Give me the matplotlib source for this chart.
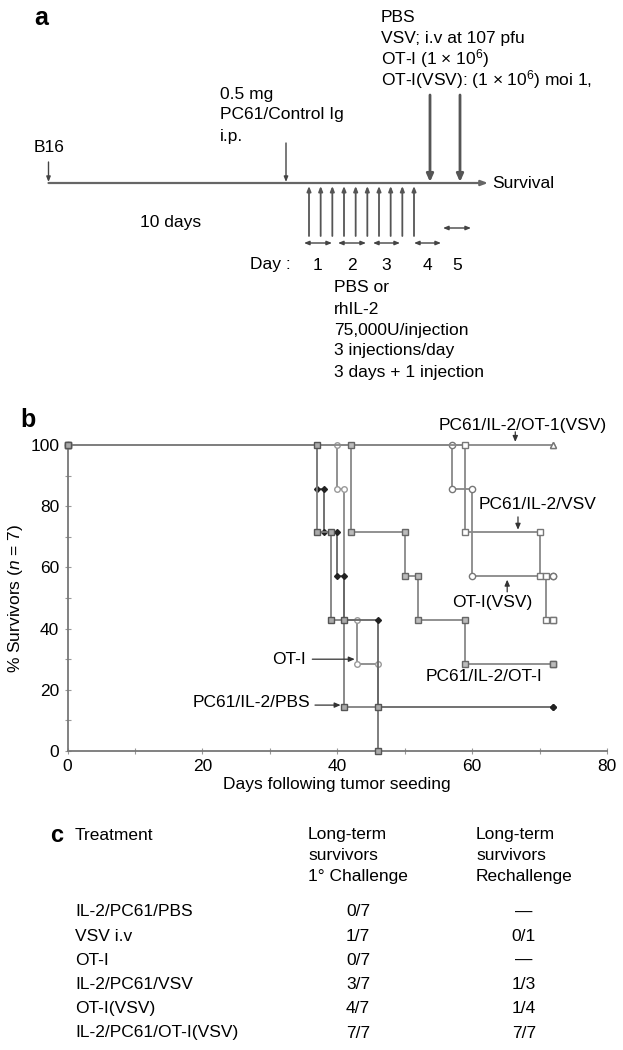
import numpy as np
import matplotlib
matplotlib.use('Agg')
import matplotlib.pyplot as plt
from matplotlib.ticker import MultipleLocator

plt.rcParams['font.family'] = ['Liberation Sans', 'DejaVu Sans']
plt.rcParams['mathtext.fontset'] = 'custom'
plt.rcParams['mathtext.rm'] = 'Liberation Sans'
plt.rcParams['mathtext.it'] = 'Liberation Sans:italic'

# survival data (days of death events, mice alive out of 7)
n_mice = 7
pbs_days = [0, 37, 39, 41, 46]
pbs_alive = [7, 5, 3, 1, 0]
vsv_days = [0, 37, 38, 40, 41, 46, 72]
vsv_alive = [7, 6, 5, 4, 3, 1, 1]
oti_days = [0, 40, 41, 43, 46]
oti_alive = [7, 6, 3, 2, 0]
il2_oti_days = [0, 42, 50, 52, 59, 72]
il2_oti_alive = [7, 5, 4, 3, 2, 2]
il2_vsv_days = [0, 59, 70, 71, 72]
il2_vsv_alive = [7, 5, 4, 3, 3]
otivsv_days = [0, 57, 60, 72]
otivsv_alive = [7, 6, 4, 4]
combo_days = [0, 72]
combo_alive = [7, 7]

# table c
treatments = ['IL-2/PC61/PBS', 'VSV i.v', 'OT-I', 'IL-2/PC61/VSV', 'OT-I(VSV)', 'IL-2/PC61/OT-I(VSV)']
primary = ['0/7', '1/7', '0/7', '3/7', '4/7', '7/7']
rechallenge = ['\u2014', '0/1', '\u2014', '1/3', '1/4', '7/7']

W, H = 623, 1050
fig = plt.figure(figsize=(W / 100, H / 100), dpi=100)

# ---------------- panel b ----------------
x0, x1, y100, y0 = 67.5, 607, 445, 751
ax = fig.add_axes([x0 / W, 1 - y0 / H, (x1 - x0) / W, (y0 - y100) / H])
ax.set_xlim(0, 80)
ax.set_ylim(0, 100)
for s in ['top', 'right']:
    ax.spines[s].set_visible(False)
for s in ['left', 'bottom']:
    ax.spines[s].set_color('#777777')
    ax.spines[s].set_linewidth(1.3)
ax.xaxis.set_major_locator(MultipleLocator(20))
ax.xaxis.set_minor_locator(MultipleLocator(10))
ax.yaxis.set_major_locator(MultipleLocator(20))
ax.yaxis.set_minor_locator(MultipleLocator(10))
ax.tick_params(which='both', direction='inout', length=4, color='#999999', width=0.8, labelsize=12.5, pad=4)


def steps(days, alive):
    xs, ys = [days[0]], [alive[0]]
    for d, a_prev, a in zip(days[1:], alive[:-1], alive[1:]):
        xs += [d, d]
        ys += [a_prev, a]
    return np.array(xs), np.array(ys) / n_mice * 100


curves = [
    (combo_days, combo_alive, dict(color='#888888', marker='^', mfc='white', mec='#777777', ms=4.5)),
    (otivsv_days, otivsv_alive, dict(color='#888888', marker='o', mfc='white', mec='#777777', ms=4.5)),
    (il2_vsv_days, il2_vsv_alive, dict(color='#888888', marker='s', mfc='white', mec='#777777', ms=4.5)),
    (oti_days, oti_alive, dict(color='#888888', marker='o', mfc='white', mec='#999999', ms=4)),
    (vsv_days, vsv_alive, dict(color='#666666', marker='D', mfc='#222222', mec='#222222', ms=3)),
    (il2_oti_days, il2_oti_alive, dict(color='#888888', marker='s', mfc='#bbbbbb', mec='#666666', ms=4.5)),
    (pbs_days, pbs_alive, dict(color='#808080', marker='s', mfc='#aaaaaa', mec='#555555', ms=4.5)),
]
for days, alive, st in curves:
    xs, ys = steps(days, alive)
    ax.plot(xs, ys, lw=1.3, clip_on=False, zorder=3, **st)

ax.set_xlabel('Days following tumor seeding', fontsize=12.5, labelpad=2)
ax.set_ylabel('% Survivors ($n$ = 7)', fontsize=12.5, labelpad=4)

arr = dict(arrowstyle='-|>,head_length=0.35,head_width=0.15', color='#333333', lw=0.9, shrinkA=0, shrinkB=0)
fs = 12.5
ax.text(67.5, 106.5, 'PC61/IL-2/OT-1(VSV)', ha='center', va='center', fontsize=fs)
ax.annotate('', xy=(66.4, 101), xytext=(66.4, 104.3), arrowprops=dict(arr), annotation_clip=False)
ax.text(69.7, 80.4, 'PC61/IL-2/VSV', ha='center', va='center', fontsize=fs)
ax.annotate('', xy=(66.8, 72.3), xytext=(66.8, 76.5), arrowprops=dict(arr))
ax.text(63.0, 48.4, 'OT-I(VSV)', ha='center', va='center', fontsize=fs)
ax.annotate('', xy=(65.2, 56.0), xytext=(65.2, 52.0), arrowprops=dict(arr))
ax.text(35.4, 30.0, 'OT-I', ha='right', va='center', fontsize=fs)
ax.annotate('', xy=(42.6, 30.0), xytext=(36.3, 30.0), arrowprops=dict(arr))
ax.text(61.7, 24.2, 'PC61/IL-2/OT-I', ha='center', va='center', fontsize=fs)
ax.text(36.0, 15.7, 'PC61/IL-2/PBS', ha='right', va='center', fontsize=fs)
ax.annotate('', xy=(40.5, 15.0), xytext=(36.7, 15.0), arrowprops=dict(arr))

# ---------------- overlay for panels a and c ----------------
ov = fig.add_axes([0, 0, 1, 1])
ov.set_xlim(0, W)
ov.set_ylim(H, 0)
ov.axis('off')

ov.text(34, 18, 'a', fontsize=18, fontweight='bold', ha='left', va='center')
ov.text(20, 420, 'b', fontsize=18, fontweight='bold', ha='left', va='center')

fa = 12.5
for i, t in enumerate(['PBS', 'VSV; i.v at 107 pfu', 'OT-I (1 \u00d7 10$^{6}$)',
                       'OT-I(VSV): (1 \u00d7 10$^{6}$) moi 1,']):
    ov.text(381, 17 + i * 21, t, fontsize=fa, ha='left', va='center')
for i, t in enumerate(['0.5 mg', 'PC61/Control Ig', 'i.p.']):
    ov.text(220, 94 + i * 21, t, fontsize=fa, ha='left', va='center')
ov.text(34, 148, 'B16', fontsize=fa, ha='left', va='center')

lc = '#666666'
thin = dict(arrowstyle='-|>,head_length=0.3,head_width=0.12', color='#444444', lw=1.0, shrinkA=0, shrinkB=0)
thick = dict(arrowstyle='-|>,head_length=0.45,head_width=0.2', color='#555555', lw=2.0, shrinkA=0, shrinkB=0)
dbl = dict(arrowstyle='<|-|>,head_length=0.3,head_width=0.12', color='#444444', lw=1.0, shrinkA=0, shrinkB=0)

# timeline
ov.annotate('', xy=(488, 183), xytext=(48.5, 183),
            arrowprops=dict(arrowstyle='-|>,head_length=0.4,head_width=0.15', color=lc, lw=1.6, shrinkA=0, shrinkB=0))
ov.text(492, 183, 'Survival', fontsize=fa, ha='left', va='center')
ov.annotate('', xy=(48.5, 182), xytext=(48.5, 162), arrowprops=thin)
ov.annotate('', xy=(286, 182), xytext=(286, 143), arrowprops=thin)
for xa in [430, 460]:
    ov.annotate('', xy=(xa, 182), xytext=(xa, 95), arrowprops=thick)
for xa in np.linspace(309, 414, 10):
    ov.annotate('', xy=(xa, 186), xytext=(xa, 236), arrowprops=dict(thin, color='#555555', lw=1.3))
for xa, xb in [(304, 332), (338, 366), (373, 400), (414, 441)]:
    ov.annotate('', xy=(xb, 243), xytext=(xa, 243), arrowprops=dbl)
ov.annotate('', xy=(471, 228), xytext=(443, 228), arrowprops=dbl)
ov.text(171, 223, '10 days', fontsize=fa, ha='center', va='center')
ov.text(250, 265, 'Day :', fontsize=fa, ha='left', va='center')
for xd, lab in zip([318, 352, 386, 427, 457], ['1', '2', '3', '4', '5']):
    ov.text(xd, 265, lab, fontsize=fa, ha='center', va='center')
for i, t in enumerate(['PBS or', 'rhIL-2', '75,000U/injection', '3 injections/day', '3 days + 1 injection']):
    ov.text(334, 288 + i * 21, t, fontsize=fa, ha='left', va='center')

# panel c table
ft = 12.5
ov.text(50, 835, 'c', fontsize=17, fontweight='bold', ha='left', va='center')
ov.text(75, 835, 'Treatment', fontsize=ft, ha='left', va='center')
for i, t in enumerate(['Long-term', 'survivors', '1\u00b0 Challenge']):
    ov.text(308, 835 + i * 21, t, fontsize=ft, ha='left', va='center')
for i, t in enumerate(['Long-term', 'survivors', 'Rechallenge']):
    ov.text(476, 835 + i * 21, t, fontsize=ft, ha='left', va='center')
for i, (t, p, r) in enumerate(zip(treatments, primary, rechallenge)):
    yy = 912 + i * 24.2
    ov.text(75, yy, t, fontsize=ft, ha='left', va='center')
    ov.text(358, yy, p, fontsize=ft, ha='center', va='center')
    ov.text(524, yy, r, fontsize=ft, ha='center', va='center')

fig.savefig('out.png', dpi=100)
